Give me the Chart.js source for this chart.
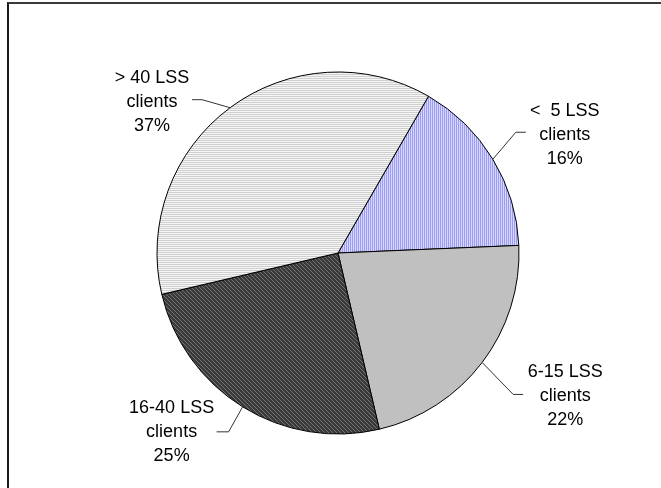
<!DOCTYPE html>
<html>
<head>
<meta charset="utf-8">
<script src="https://cdn.jsdelivr.net/npm/chart.js@4/dist/chart.umd.min.js"></script>
<style>
  html, body { margin: 0; padding: 0; background: #ffffff; }
  #wrap { position: relative; width: 661px; height: 488px; overflow: hidden; }
  #frame { position: absolute; left: 7px; top: 2px; width: 700px; height: 520px;
           border-left: 2px solid #1a1a1a; border-top: 2px solid #3a3a3a; }
  canvas { position: absolute; left: 0; top: 0; }
</style>
</head>
<body>
<div id="wrap">
  <div id="frame"></div>
  <canvas id="pie" width="661" height="488"></canvas>
</div>
<script>
// Share of offices by number of LSS clients served
const categories = ["<  5 LSS clients", "6-15 LSS clients", "16-40 LSS clients", "> 40 LSS clients"];
const labelLines = [["<  5 LSS", "clients"], ["6-15 LSS", "clients"], ["16-40 LSS", "clients"], ["> 40 LSS", "clients"]];
const shares = [16, 22, 25, 37];

// Fill patterns for the slices
function makePattern(size, base, ink, isInk) {
  const c = document.createElement('canvas');
  c.width = size; c.height = size;
  const g = c.getContext('2d');
  g.fillStyle = base; g.fillRect(0, 0, size, size);
  g.fillStyle = ink;
  for (let x = 0; x < size; x++) for (let y = 0; y < size; y++) if (isInk(x, y)) g.fillRect(x, y, 1, 1);
  return g.createPattern(c, 'repeat');
}
const ctx0 = document.getElementById('pie').getContext('2d');
const fills = [
  makePattern(2, '#d6d6ff', '#9c9cf0', (x, y) => x === 0),          // narrow vertical
  '#c0c0c0',                                                        // solid grey
  makePattern(4, '#3a3a3a', '#727272', (x, y) => x === y),          // dark diagonal
  makePattern(2, '#f6f6f6', '#cfcfcf', (x, y) => y === 0)           // narrow horizontal
];

// Label placement around each slice: text offset and leader elbow, relative to the arc point
const labelStyle = [
  { text: [72, -24], elbow: [23, -27], end: [33, -27] },
  { text: [83, 34],  elbow: [31, 32],  end: [41, 32] },
  { text: [-71, 25], elbow: [-14, 25], end: [-26, 25] },
  { text: [-78, -6], elbow: [-28, -8], end: [-38, -8] }
];

const calloutPlugin = {
  id: 'callouts',
  afterDatasetsDraw(chart) {
    const ctx = chart.ctx;
    const meta = chart.getDatasetMeta(0);
    ctx.save();
    meta.data.forEach((arc, i) => {
      const p = arc.getProps(['x', 'y', 'startAngle', 'endAngle', 'outerRadius'], true);
      const mid = (p.startAngle + p.endAngle) / 2;
      const ax = p.x + Math.cos(mid) * p.outerRadius;
      const ay = p.y + Math.sin(mid) * p.outerRadius;
      const s = labelStyle[i];
      ctx.strokeStyle = '#333333';
      ctx.lineWidth = 1;
      ctx.beginPath();
      ctx.moveTo(ax, ay);
      ctx.lineTo(ax + s.elbow[0], ay + s.elbow[1]);
      ctx.lineTo(ax + s.end[0], ay + s.end[1]);
      ctx.stroke();
      const lines = labelLines[i].concat([shares[i] + '%']);
      ctx.fillStyle = '#000000';
      ctx.font = '18px "Liberation Sans", Arial, sans-serif';
      ctx.textAlign = 'center';
      ctx.textBaseline = 'middle';
      const tx = ax + s.text[0], ty = ay + s.text[1];
      lines.forEach((t, k) => ctx.fillText(t, tx, ty + (k - 1) * 24));
    });
    ctx.restore();
  }
};

new Chart(ctx0, {
  type: 'pie',
  data: {
    labels: categories,
    datasets: [{
      data: shares,
      backgroundColor: fills,
      borderColor: '#000000',
      borderWidth: 1
    }]
  },
  options: {
    responsive: false,
    animation: false,
    rotation: 30,
    radius: 181,
    layout: { padding: { left: 157, right: 142, top: 72, bottom: 54 } },
    plugins: { legend: { display: false }, tooltip: { enabled: false } }
  },
  plugins: [calloutPlugin]
});
</script>
</body>
</html>
